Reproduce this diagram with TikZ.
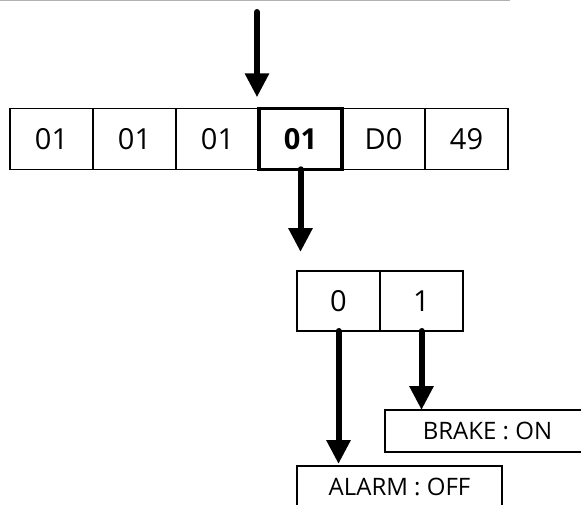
\documentclass[tikz,border=0pt]{standalone}
\usepackage{fontspec}
\setmainfont{Open Sans}
\usetikzlibrary{arrows.meta, positioning}

\begin{document}
\begin{tikzpicture}[
        x=1pt, y=-1pt,
        node distance=0pt, % cells sit edge to edge
        cell/.style={draw, line width=1.3pt, minimum width=83pt, minimum height=61pt,
                     inner sep=0pt, outer sep=0pt, font=\fontsize{29}{32}\selectfont},
        bitcell/.style={cell, minimum height=60pt},
        flag/.style={draw, line width=1.3pt, minimum width=205pt, minimum height=42pt,
                     inner sep=0pt, outer sep=0pt, font=\fontsize{24}{27}\selectfont},
        flow/.style={line width=6pt, line cap=round, -{Triangle[length=24pt, width=23pt]}}
      ]
      \useasboundingbox (0,0) rectangle (581,504);
      \clip (0,0) rectangle (581,504);

      % rule along the top
      \draw[black!30, line width=1.5pt] (0,0) -- (510,0);

      % Frame bytes
      \node (c1) [cell] at (51.5,138.8) {01};
      \node (c2) [cell, right=of c1] {01};
      \node (c3) [cell, right=of c2] {01};
      \node (c4) [cell, right=of c3, line width=3.5pt] {\textbf{01}};
      \node (c5) [cell, right=of c4] {D0};
      \node (c6) [cell, right=of c5] {49};

      % Bits of the selected byte
      \node (b0) [bitcell] at (338.5,301) {0};
      \node (b1) [bitcell, right=of b0] {1};

      % Flags
      \node (brake) [flag] at (487.5,431) {BRAKE : ON};
      \node (alarm) [flag] at (399.5,487) {ALARM : OFF};

      % Arrows
      \coordinate (feed) at (257,12);
      \draw[flow, shorten >=11pt] (feed) -- (feed |- c4.north);
      \draw[flow, shorten >=19pt] (c4.south) -- (c4.south |- b0.north);
      \draw[flow, shorten >=2pt] (b0.south) -- (b0.south |- alarm.north);
      \draw[flow] (b1.south) -- (b1.south |- brake.north);

    \end{tikzpicture}
\end{document}
